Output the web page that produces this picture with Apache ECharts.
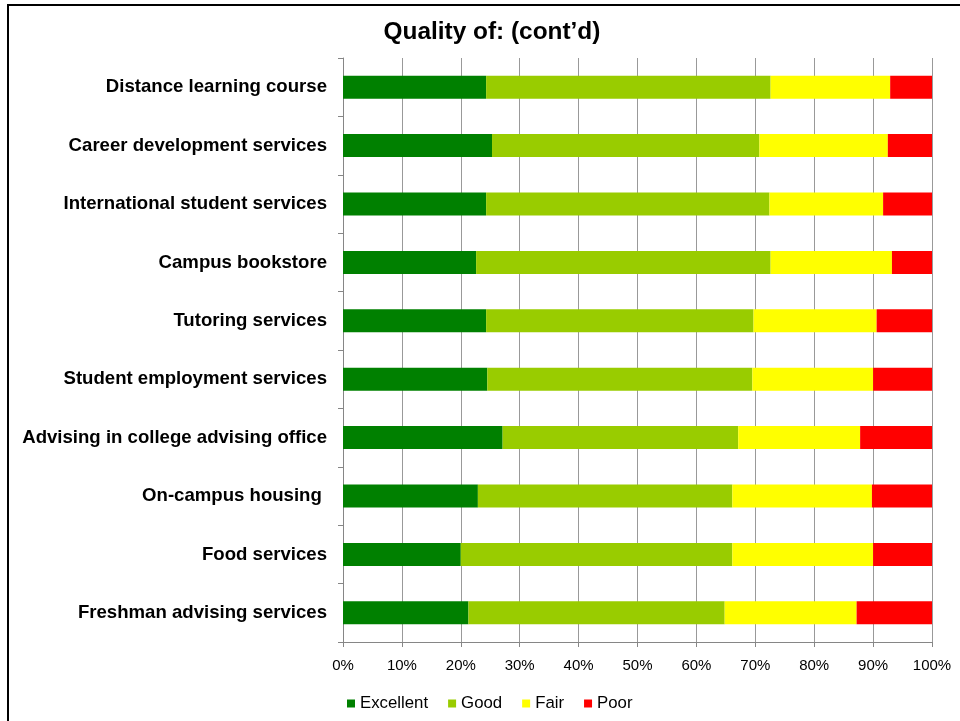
<!DOCTYPE html>
<html>
<head>
<meta charset="utf-8">
<script src="https://cdn.jsdelivr.net/npm/echarts@6/dist/echarts.min.js"></script>
<style>
html,body{margin:0;padding:0;background:#fff;}
#chart{width:960px;height:721px;}
</style>
</head>
<body>
<div id="chart"></div>
<script>
var categories = [
  "Distance learning course",
  "Career development services",
  "International student services",
  "Campus bookstore",
  "Tutoring services",
  "Student employment services",
  "Advising in college advising office",
  "On-campus housing ",
  "Food services",
  "Freshman advising services"
];
var excellent = [24.3, 25.3, 24.3, 22.6, 24.3, 24.5, 27.1, 22.9, 20.0, 21.3];
var good      = [48.3, 45.4, 48.1, 50.0, 45.4, 45.0, 40.0, 43.2, 46.1, 43.5];
var fair      = [20.3, 21.8, 19.3, 20.6, 20.9, 20.5, 20.7, 23.7, 23.9, 22.4];
var poor      = [7.1, 7.5, 8.3, 6.8, 9.4, 10.0, 12.2, 10.2, 10.0, 12.8];
var seriesNames = ["Excellent", "Good", "Fair", "Poor"];
var seriesColors = ["#008000", "#99CC00", "#FFFF00", "#FF0000"];
var seriesData = [excellent, good, fair, poor];

var chart = echarts.init(document.getElementById('chart'), null, {renderer: 'canvas'});
var font = 'Liberation Sans, Arial, sans-serif';
var option = {
  backgroundColor: '#ffffff',
  animation: false,
  title: {
    text: 'Quality of: (cont\u2019d)',
    left: 487,
    textAlign: 'center',
    top: 15,
    textStyle: {fontFamily: font, fontSize: 24.4, fontWeight: 'bold', color: '#000'}
  },
  legend: {
    left: 342,
    top: 690,
    itemWidth: 8,
    itemHeight: 8,
    itemGap: 20,
    icon: 'rect',
    textStyle: {fontFamily: font, fontSize: 16.8, color: '#000'},
    data: seriesNames
  },
  graphic: [{
    type: 'rect',
    shape: {x: 8, y: 5, width: 1200, height: 1200},
    style: {fill: 'none', stroke: '#000', lineWidth: 2},
    silent: true
  }],
  grid: {left: 343, right: 28, top: 58, bottom: 79, containLabel: false},
  xAxis: {
    type: 'value',
    min: 0, max: 100, interval: 10,
    axisLine: {show: true, lineStyle: {color: '#868686', width: 1}},
    axisTick: {show: true, length: 5, lineStyle: {color: '#868686'}},
    splitLine: {show: true, lineStyle: {color: '#999999', width: 1}},
    axisLabel: {formatter: '{value}%', fontFamily: font, fontSize: 15, color: '#000', margin: 16}
  },
  yAxis: {
    type: 'category',
    inverse: true,
    data: categories,
    axisLine: {show: true, lineStyle: {color: '#868686', width: 1}},
    axisTick: {show: true, length: 5, inside: false, lineStyle: {color: '#868686'}},
    axisLabel: {fontFamily: font, fontSize: 18.6, fontWeight: 'bold', color: '#000', margin: 16}
  },
  series: seriesNames.map(function (name, i) {
    return {
      name: name,
      type: 'bar',
      stack: 'total',
      barWidth: 23,
      itemStyle: {color: seriesColors[i]},
      data: seriesData[i]
    };
  })
};
chart.setOption(option);
</script>
</body>
</html>
